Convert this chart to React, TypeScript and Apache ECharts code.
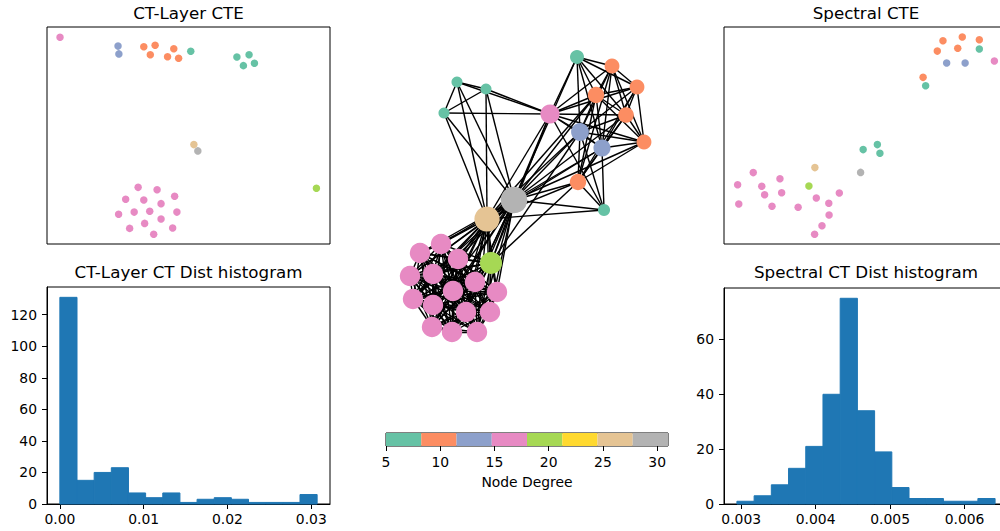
import React, { useEffect, useRef } from "react";
import * as echarts from "echarts";

// ---------- colour map (Set2, 8 discrete bins over node degree) ----------
const SET2 = ["#66c2a5", "#fc8d62", "#8da0cb", "#e78ac3", "#a6d854", "#ffd92f", "#e5c494", "#b3b3b3"];
const DEG_MIN = 5;
const DEG_MAX = 31;
const CB_TICKS = [5, 10, 15, 20, 25, 30];

// ---------- network: node layout positions (32 nodes) ----------
const NODE_X = [
  0.63, 0.98, 1.23, 0.82, -0.57, -0.28, -0.7, 0.36, 1.12, 0.66, 1.3, 0.88, 0.64, 0.0, 0.9, -0.27, -0.23,
  -0.73, -0.94, -0.56, -1.04, -0.81, -0.39, -0.61, -0.17, -1.01, -0.81, -0.48, -0.24, -0.82, -0.62, -0.37,
];
const NODE_Y = [
  1.43, 1.34, 1.13, 1.05, 1.18, 1.11, 0.87, 0.86, 0.85, 0.68, 0.58, 0.52, 0.18, 0.0, -0.1, -0.19, -0.63,
  -0.44, -0.53, -0.59, -0.76, -0.74, -0.82, -0.91, -0.92, -0.99, -1.05, -1.12, -1.12, -1.27, -1.32, -1.32,
];
// dense community (all pairs connected) and the hub nodes every member links to
const PINK_CLUSTER = [17, 18, 19, 20, 21, 22, 23, 24, 25, 26, 27, 28, 29, 30, 31];
const CLUSTER_HUBS = [13, 15, 16];
const OTHER_EDGES = [
  [4, 5], [4, 6], [5, 6], [4, 7], [5, 7], [6, 7], [4, 13], [5, 13], [6, 13], [4, 15], [5, 15], [6, 15],
  [0, 1], [0, 2], [0, 3], [0, 8], [0, 9], [0, 11], [0, 7], [0, 13],
  [1, 2], [1, 3], [1, 8], [1, 10], [1, 9], [1, 11], [1, 7], [1, 12],
  [2, 3], [2, 8], [2, 10], [2, 9], [2, 11], [2, 7], [2, 12],
  [3, 8], [3, 10], [3, 9], [3, 11], [3, 7], [3, 12], [3, 13], [3, 15],
  [8, 10], [8, 9], [8, 11], [8, 7], [8, 12], [8, 13],
  [10, 9], [10, 11], [10, 7], [10, 12], [10, 13],
  [9, 11], [9, 7], [9, 12], [9, 14], [9, 13], [9, 15], [9, 16],
  [11, 7], [11, 12], [11, 14], [11, 13], [11, 15],
  [12, 14], [12, 13], [12, 15], [12, 16],
  [7, 14], [7, 13], [7, 15], [7, 16],
  [14, 13], [14, 15],
  [13, 15], [13, 16],
  [15, 16],
];

// ---------- CT-Layer CTE embedding (per node) ----------
const CT_X = [
  5.08, 3.42, 3.82, 3.65, 6.71, 7.14, 6.94, 0.46, 4.48, 2.51, 4.26, 2.54, 4.65, 5.33, 7.33, 5.19, 9.52,
  3.22, 3.89, 4.51, 2.78, 3.42, 4.03, 2.53, 3.08, 3.63, 4.59, 3.45, 4.03, 2.92, 4.44, 3.77,
];
const CT_Y = [
  8.88, 9.09, 9.16, 8.72, 8.62, 8.72, 8.22, 9.53, 9.0, 9.12, 8.63, 8.76, 8.56, 4.29, 8.33, 4.58, 2.57,
  2.61, 2.5, 2.2, 2.06, 2.03, 1.86, 1.37, 1.47, 1.51, 1.47, 0.95, 1.15, 0.72, 0.74, 0.45,
];

// ---------- Spectral CTE embedding (per node) ----------
const SP_X = [
  8.99, 7.71, 8.39, 8.99, 4.9, 5.4, 5.49, 9.52, 7.51, 7.84, 8.23, 8.49, 7.01, 4.81, 7.1, 3.2, 2.99,
  1.03, 0.48, 1.33, 1.97, 1.43, 2.03, 0.52, 1.69, 2.61, 3.25, 4.06, 3.69, 3.7, 3.45, 3.19,
];
const SP_Y = [
  8.99, 9.37, 9.54, 9.41, 4.35, 4.58, 4.18, 8.43, 8.89, 8.34, 9.02, 8.34, 7.68, 3.3, 7.29, 3.52, 2.67,
  3.29, 2.73, 2.66, 3.01, 2.27, 2.36, 1.84, 1.74, 1.69, 2.12, 2.35, 1.88, 1.34, 0.84, 0.45,
];

// ---------- histograms ----------
const CT_HIST_COUNTS = [131, 15, 20, 23, 7, 4, 7, 1, 3, 4, 3, 1, 1, 1, 6];
const CT_HIST_RANGE = [0.0, 0.0307];
const CT_HIST_XTICKS = [0.0, 0.01, 0.02, 0.03];
const CT_HIST_YTICKS = [0, 20, 40, 60, 80, 100, 120];

const SP_HIST_COUNTS = [1, 3, 7, 13, 21, 40, 75, 34, 19, 6, 2, 2, 1, 1, 2];
const SP_HIST_RANGE = [0.002942, 0.00641];
const SP_HIST_XTICKS = [0.003, 0.004, 0.005, 0.006];
const SP_HIST_YTICKS = [0, 20, 40, 60];

const FONT = "DejaVu Sans";
const BAR_BLUE = "#1f77b4";

function buildEdges(): number[][] {
  const edges: number[][] = [];
  for (let i = 0; i < PINK_CLUSTER.length; i++) {
    for (let j = i + 1; j < PINK_CLUSTER.length; j++) edges.push([PINK_CLUSTER[i], PINK_CLUSTER[j]]);
    for (const h of CLUSTER_HUBS) edges.push([PINK_CLUSTER[i], h]);
  }
  return edges.concat(OTHER_EDGES);
}

function colorFor(deg: number): string {
  const w = (DEG_MAX - DEG_MIN) / SET2.length;
  const idx = Math.max(0, Math.min(SET2.length - 1, Math.floor((deg - DEG_MIN) / w)));
  return SET2[idx];
}

function histData(counts: number[], range: number[]) {
  const w = (range[1] - range[0]) / counts.length;
  return counts.map((c, i) => [range[0] + i * w, range[0] + (i + 1) * w, c]);
}

function histRender(params: any, api: any) {
  const p0 = api.coord([api.value(0), 0]);
  const p1 = api.coord([api.value(1), api.value(2)]);
  return {
    type: "rect",
    shape: { x: p0[0], y: p1[1], width: p1[0] - p0[0], height: p0[1] - p1[1] },
    style: { fill: BAR_BLUE, stroke: BAR_BLUE, lineWidth: 1 },
  };
}

const axisText = { fontFamily: FONT, fontSize: 13.9, color: "#000" };

function histX(gridIndex: number, min: number, max: number, ticks: number[], digits: number) {
  return {
    type: "value",
    gridIndex,
    min,
    max,
    axisLine: { show: true, onZero: false, lineStyle: { color: "#000", width: 1 } },
    axisTick: { show: true, inside: false, length: 5, customValues: ticks, lineStyle: { color: "#000", width: 1 } },
    axisLabel: { show: true, margin: 8, customValues: ticks, formatter: (v: number) => v.toFixed(digits), ...axisText },
    splitLine: { show: false },
  };
}

function histY(gridIndex: number, max: number, ticks: number[]) {
  return {
    type: "value",
    gridIndex,
    min: 0,
    max,
    axisLine: { show: true, onZero: false, lineStyle: { color: "#000", width: 1 } },
    axisTick: { show: true, inside: false, length: 5, customValues: ticks, lineStyle: { color: "#000", width: 1 } },
    axisLabel: { show: true, margin: 10, customValues: ticks, formatter: (v: number) => String(Math.round(v)), ...axisText },
    splitLine: { show: false },
  };
}

function titleText(text: string, x: number, y: number) {
  return {
    type: "text",
    x,
    y,
    style: { text, fontFamily: FONT, fontSize: 16.7, fill: "#000", align: "center", verticalAlign: "middle" },
  };
}

export default function App() {
  const ref = useRef<HTMLDivElement>(null);

  useEffect(() => {
    if (!ref.current) return;
    const chart = echarts.init(ref.current, undefined, { renderer: "svg" });

    const edges = buildEdges();
    const degree = NODE_X.map(() => 0);
    edges.forEach(([a, b]) => {
      degree[a] += 1;
      degree[b] += 1;
    });

    const ctPoints = CT_X.map((x, i) => [x, CT_Y[i], degree[i]]);
    const spPoints = SP_X.map((x, i) => [x, SP_Y[i], degree[i]]);
    const nodePoints = NODE_X.map((x, i) => [x, NODE_Y[i], degree[i]]);
    const edgeLines = edges.map(([a, b]) => ({
      coords: [
        [NODE_X[a], NODE_Y[a]],
        [NODE_X[b], NODE_Y[b]],
      ],
    }));

    const cbW = (DEG_MAX - DEG_MIN) / SET2.length;
    const cbData = SET2.map((_, i) => [DEG_MIN + i * cbW, DEG_MIN + (i + 1) * cbW, i]);

    const ctHist = histData(CT_HIST_COUNTS, CT_HIST_RANGE);
    const spHist = histData(SP_HIST_COUNTS, SP_HIST_RANGE);
    const ctMargin = (CT_HIST_RANGE[1] - CT_HIST_RANGE[0]) * 0.05;
    const spMargin = (SP_HIST_RANGE[1] - SP_HIST_RANGE[0]) * 0.05;

    const boxed = { show: true, borderColor: "#000", borderWidth: 1, backgroundColor: "transparent" };

    const option: any = {
      animation: false,
      backgroundColor: "#fff",
      textStyle: { fontFamily: FONT },
      grid: [
        { left: 47, top: 27, width: 283, height: 217, ...boxed },
        { left: 724, top: 27, width: 284, height: 217, ...boxed },
        { left: 47, top: 287, width: 283, height: 217, ...boxed },
        { left: 724, top: 288, width: 284, height: 216, ...boxed },
        { left: 380, top: 30, width: 300, height: 320, show: false },
        { left: 386, top: 433, width: 282, height: 13, ...boxed },
      ],
      xAxis: [
        { type: "value", gridIndex: 0, min: 0, max: 10, show: false },
        { type: "value", gridIndex: 1, min: 0, max: 10, show: false },
        histX(2, CT_HIST_RANGE[0] - ctMargin, CT_HIST_RANGE[1] + ctMargin, CT_HIST_XTICKS, 2),
        histX(3, SP_HIST_RANGE[0] - spMargin, SP_HIST_RANGE[1] + spMargin, SP_HIST_XTICKS, 3),
        { type: "value", gridIndex: 4, min: -1.34, max: 1.66, show: false },
        {
          type: "value",
          gridIndex: 5,
          min: DEG_MIN,
          max: DEG_MAX,
          name: "Node Degree",
          nameLocation: "middle",
          nameGap: 29,
          nameTextStyle: { ...axisText },
          axisLine: { show: false, onZero: false },
          axisTick: { show: true, length: 5, customValues: CB_TICKS, lineStyle: { color: "#000", width: 1 } },
          axisLabel: { show: true, margin: 9, customValues: CB_TICKS, ...axisText },
          splitLine: { show: false },
        },
      ],
      yAxis: [
        { type: "value", gridIndex: 0, min: 0, max: 10, show: false },
        { type: "value", gridIndex: 1, min: 0, max: 10, show: false },
        histY(2, Math.max(...CT_HIST_COUNTS) * 1.05, CT_HIST_YTICKS),
        histY(3, Math.max(...SP_HIST_COUNTS) * 1.05, SP_HIST_YTICKS),
        { type: "value", gridIndex: 4, min: -1.5, max: 1.7, show: false },
        { type: "value", gridIndex: 5, min: 0, max: 1, show: false },
      ],
      series: [
        {
          type: "scatter",
          xAxisIndex: 0,
          yAxisIndex: 0,
          data: ctPoints,
          symbolSize: 7.5,
          itemStyle: { opacity: 1, color: (p: any) => colorFor(p.value[2]) },
        },
        {
          type: "scatter",
          xAxisIndex: 1,
          yAxisIndex: 1,
          data: spPoints,
          symbolSize: 7.5,
          itemStyle: { opacity: 1, color: (p: any) => colorFor(p.value[2]) },
        },
        { type: "custom", xAxisIndex: 2, yAxisIndex: 2, data: ctHist, renderItem: histRender, z: 1 },
        { type: "custom", xAxisIndex: 3, yAxisIndex: 3, data: spHist, renderItem: histRender, z: 1 },
        {
          type: "lines",
          coordinateSystem: "cartesian2d",
          xAxisIndex: 4,
          yAxisIndex: 4,
          data: edgeLines,
          silent: true,
          z: 2,
          lineStyle: { color: "#000", width: 1.4, opacity: 1 },
        },
        {
          type: "scatter",
          xAxisIndex: 4,
          yAxisIndex: 4,
          data: nodePoints,
          z: 3,
          symbolSize: (v: number[]) => 4.95 * Math.sqrt(v[2]),
          itemStyle: { opacity: 1, color: (p: any) => colorFor(p.value[2]) },
        },
        {
          type: "custom",
          xAxisIndex: 5,
          yAxisIndex: 5,
          data: cbData,
          renderItem: (params: any, api: any) => {
            const p0 = api.coord([api.value(0), 1]);
            const p1 = api.coord([api.value(1), 0]);
            return {
              type: "rect",
              shape: { x: p0[0], y: p0[1], width: p1[0] - p0[0], height: p1[1] - p0[1] },
              style: { fill: SET2[api.value(2)] },
            };
          },
        },
      ],
      graphic: [
        titleText("CT-Layer CTE", 188.5, 13),
        titleText("Spectral CTE", 866, 13),
        titleText("CT-Layer CT Dist histogram", 188.5, 272),
        titleText("Spectral CT Dist histogram", 866, 272),
      ],
    };

    chart.setOption(option);
    return () => chart.dispose();
  }, []);

  // The right-hand axes extend past the 1000px frame, as in the reference,
  // so the chart canvas is a little wider and clipped by the wrapper.
  return (
    <div style={{ position: "fixed", left: 0, top: 0, width: 1000, height: 531, overflow: "hidden", background: "#fff" }}>
      <div ref={ref} style={{ width: 1012, height: 531 }} />
    </div>
  );
}
